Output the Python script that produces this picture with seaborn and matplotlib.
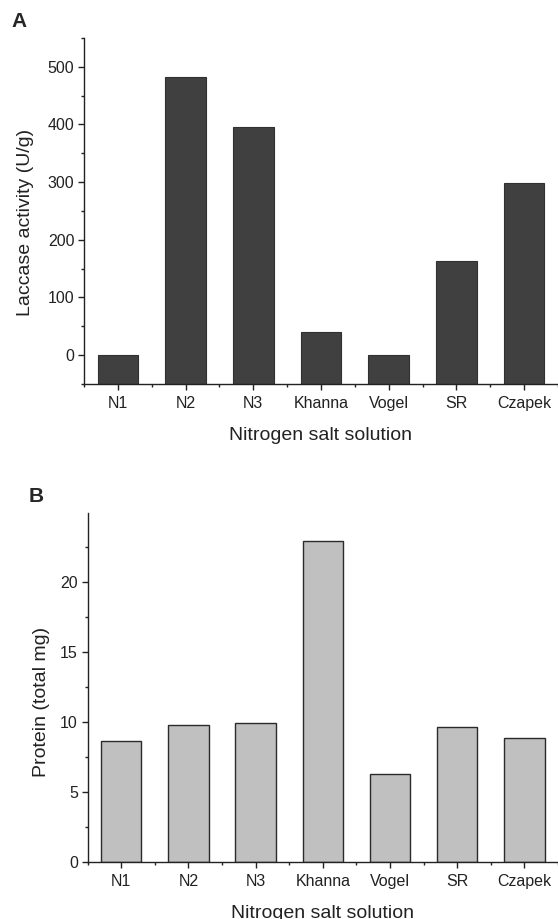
import matplotlib
matplotlib.use("Agg")
import matplotlib.pyplot as plt
import seaborn as sns
from matplotlib.ticker import MultipleLocator

# data
solutions = ["N1", "N2", "N3", "Khanna", "Vogel", "SR", "Czapek"]
laccase_activity = [0, 483, 396, 40, 0, 164, 299]
protein_total = [8.63, 9.75, 9.95, 22.93, 6.31, 9.66, 8.88]

sns.set_style("ticks")
plt.rcParams["font.family"] = ["Liberation Sans", "DejaVu Sans"]
plt.rcParams["axes.linewidth"] = 1.0

fig = plt.figure(figsize=(5.58, 9.19), dpi=100)
ax_a = fig.add_axes([0.1505, 0.5822, 0.8495, 0.3765])
ax_b = fig.add_axes([0.157, 0.062, 0.843, 0.3798])


def style_axis(ax, ylabel, label_xy):
    sns.despine(ax=ax)
    ax.set_xlim(-0.5, 6.5)
    ax.xaxis.set_minor_locator(MultipleLocator(1, offset=0.5))
    ax.tick_params(axis="both", which="major", direction="out", length=4.5,
                   width=1, labelsize=11.5, pad=2.5, colors="#222222")
    ax.tick_params(axis="x", which="major", pad=4)
    ax.tick_params(axis="both", which="minor", direction="out", length=2.5,
                   width=1, colors="#222222")
    ax.set_xlabel("Nitrogen salt solution", fontsize=14, color="#222222",
                  labelpad=12)
    ax.set_ylabel(ylabel, fontsize=14, color="#222222")
    ax.yaxis.set_label_coords(*label_xy)
    for side in ("left", "bottom"):
        ax.spines[side].set_color("#222222")


# panel A - laccase activity
sns.barplot(x=solutions, y=laccase_activity, color="#404040",
            edgecolor="#303030", linewidth=0.8, width=0.6, saturation=1,
            ax=ax_a)
ax_a.set_ylim(-50, 550)
# Origin draws bars from the bottom of the axis
for bar in ax_a.patches:
    top = bar.get_y() + bar.get_height()
    bar.set_y(-50)
    bar.set_height(top + 50)
ax_a.yaxis.set_major_locator(MultipleLocator(100))
ax_a.yaxis.set_minor_locator(MultipleLocator(50))
style_axis(ax_a, "Laccase activity (U/g)", (-0.106, 0.468))

# panel B - protein
sns.barplot(x=solutions, y=protein_total, color="#c0c0c0",
            edgecolor="#2a2a2a", linewidth=1.0, width=0.6, saturation=1,
            ax=ax_b)
ax_b.set_ylim(0, 24.9)
ax_b.yaxis.set_major_locator(MultipleLocator(5))
ax_b.yaxis.set_minor_locator(MultipleLocator(2.5))
style_axis(ax_b, "Protein (total mg)", (-0.08, 0.459))

fig.text(11 / 558, 1 - 12 / 919, "A", fontsize=15, fontweight="bold",
         va="top", ha="left")
fig.text(29 / 558, 1 - 487 / 919, "B", fontsize=15, fontweight="bold",
         va="top", ha="left")

fig.savefig("out.png", dpi=100)
